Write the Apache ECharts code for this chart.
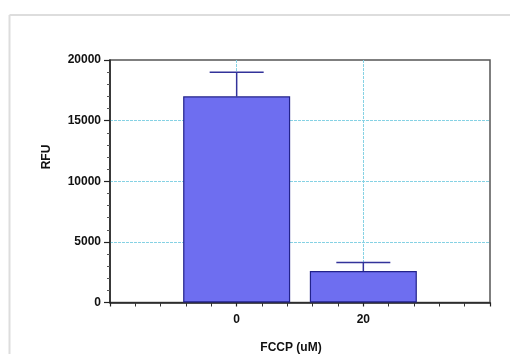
<!DOCTYPE html>
<html><head><meta charset="utf-8">
<script src="https://cdn.jsdelivr.net/npm/echarts@6/dist/echarts.min.js"></script>
<style>html,body{margin:0;padding:0;background:#fff}#c{width:510px;height:354px}</style>
</head><body><div id="c"></div>
<script>
const categories = [0, 20];
const rfu = [17000, 2600];
const errUpper = [19000, 3300];
const xLabels = [0, 20];
const yTicks = [0, 5000, 10000, 15000, 20000];

const chart = echarts.init(document.getElementById('c'));
const font = {fontFamily: 'Liberation Sans', fontWeight: 'bold', fontSize: 12, color: '#111'};
const grid = {left: 110, right: 20, top: 60, bottom: 51.5, show: true, borderColor: '#555', borderWidth: 1.5, backgroundColor: 'transparent'};
const gridLine = {color: '#86d2e4', type: [3, 1], width: 1};

chart.setOption({
  animation: false,
  backgroundColor: '#fff',
  grid: grid,
  xAxis: {
    type: 'value', min: -20, max: 40, interval: 20,
    axisLine: {onZero: false, lineStyle: {color: '#222', width: 1.5}},
    axisTick: {length: 4, lineStyle: {color: '#222', width: 1.2}},
    minorTick: {show: true, splitNumber: 5, length: 4, lineStyle: {color: '#333', width: 1}},
    axisLabel: Object.assign({margin: 11, formatter: v => xLabels.indexOf(v) >= 0 ? String(v) : ''}, font),
    splitLine: {show: true, showMinLine: false, showMaxLine: false, lineStyle: gridLine}
  },
  yAxis: {
    type: 'value', min: yTicks[0], max: yTicks[yTicks.length - 1], interval: 5000,
    axisLine: {show: true, onZero: false, lineStyle: {color: '#222', width: 1.5}},
    axisTick: {show: true, length: 6, lineStyle: {color: '#222', width: 1.2}},
    minorTick: {show: true, splitNumber: 5, length: 3, lineStyle: {color: '#555', width: 1}},
    axisLabel: Object.assign({margin: 9, formatter: v => String(v)}, font),
    splitLine: {show: true, showMinLine: false, showMaxLine: false, lineStyle: gridLine}
  },
  series: [
    {
      type: 'bar',
      data: categories.map((c, i) => [c, rfu[i]]),
      barWidth: 107,
      itemStyle: {color: '#6e6ef0', borderColor: '#22228a', borderWidth: 1.2},
      z: 3
    },
    {
      type: 'custom',
      data: categories.map((c, i) => [c, rfu[i], errUpper[i]]),
      encode: {x: 0, y: [1, 2]},
      renderItem: function (params, api) {
        const base = api.coord([api.value(0), api.value(1)]);
        const top = api.coord([api.value(0), api.value(2)]);
        const half = 27;
        const style = {stroke: '#33339a', lineWidth: 1.5};
        return {type: 'group', children: [
          {type: 'line', shape: {x1: base[0], y1: base[1], x2: top[0], y2: top[1]}, style: style},
          {type: 'line', shape: {x1: top[0] - half, y1: top[1], x2: top[0] + half, y2: top[1]}, style: style}
        ]};
      },
      z: 4
    }
  ],
  graphic: [
    {type: 'line', shape: {x1: 9.5, y1: 15, x2: 510, y2: 15}, style: {stroke: '#dddddd', lineWidth: 2}},
    {type: 'line', shape: {x1: 9.5, y1: 15, x2: 9.5, y2: 354}, style: {stroke: '#dddddd', lineWidth: 2}},
    {type: 'text', x: 47, y: 157, rotation: Math.PI / 2,
      style: {text: 'RFU', font: 'bold 12px "Liberation Sans"', fill: '#111', textAlign: 'center', textVerticalAlign: 'middle'}},
    {type: 'text', x: 291, y: 348,
      style: {text: 'FCCP (uM)', font: 'bold 12px "Liberation Sans"', fill: '#111', textAlign: 'center', textVerticalAlign: 'middle'}}
  ]
});
</script></body></html>
